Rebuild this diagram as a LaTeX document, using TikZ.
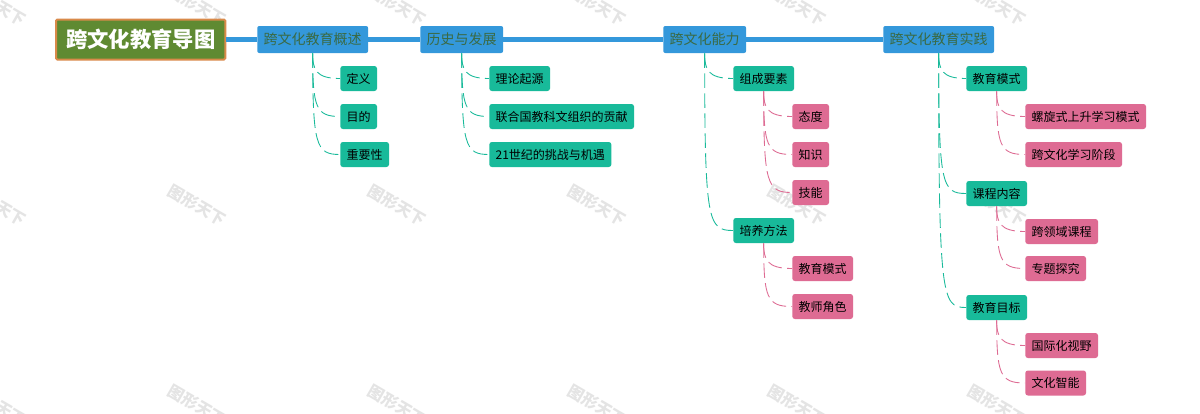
\documentclass[tikz,border=0pt]{standalone}
\usepackage{fontspec}
\usetikzlibrary{calc}
\setmainfont{Noto Sans CJK SC}
\definecolor{mainblue}{HTML}{3498DB}
\definecolor{tealc}{HTML}{18BA9A}
\definecolor{pinkc}{HTML}{DE6B93}
\definecolor{titlefill}{HTML}{5F8A32}
\definecolor{titleedge}{HTML}{D98A4A}
\definecolor{bluetext}{HTML}{3A6A44}
\definecolor{wm}{HTML}{E4E4E4}
\tikzset{
 x=0.75pt,y=-0.75pt,
 titlebox/.style={draw=titleedge,line width=1.5pt,fill=titlefill,text=white,font=\fontsize{16}{16}\selectfont\bfseries,inner xsep=7.5pt,inner ysep=0pt,minimum height=30pt,rounded corners=1pt,anchor=west},
 bluebox/.style={fill=mainblue,text=bluetext,font=\fontsize{10.5}{10.5}\selectfont,inner xsep=4.8pt,inner ysep=0pt,minimum height=20.25pt,rounded corners=1.5pt,anchor=west},
 tealbox/.style={fill=tealc,text=black,font=\fontsize{9}{9}\selectfont,inner xsep=4.8pt,inner ysep=0pt,minimum height=18.75pt,rounded corners=2pt,anchor=west},
 pinkbox/.style={fill=pinkc,text=black,font=\fontsize{9}{9}\selectfont,inner xsep=4.8pt,inner ysep=0pt,minimum height=18.75pt,rounded corners=2pt,anchor=west},
 mainline/.style={draw=mainblue,line width=3.75pt},
 tealline/.style={draw=tealc,line width=0.65pt,dash pattern=on 11pt off 4pt},
 pinkline/.style={draw=pinkc,line width=0.65pt,dash pattern=on 11pt off 4pt},
 wmark/.style={text=wm,font=\fontsize{12}{12}\selectfont\bfseries,rotate=-30}
}
\begin{document}
\begin{tikzpicture}
\useasboundingbox (0,0) rectangle (1200,414);
\fill[white] (0,0) rectangle (1200,414);
% watermarks
\foreach \wx in {-3,197,397,597,797,997}{
 \foreach \wy in {5,205,405}{
  \node[wmark] (wm\wx-\wy) at (\wx,\wy) {图形天下};
 }
}
% main row
\node[titlebox] (root) at (55,39.5) {跨文化教育导图};
\node[bluebox] (a) at (257,39.5) {跨文化教育概述};
\node[bluebox] (b) at (420,39.5) {历史与发展};
\node[bluebox] (c) at (663,39.5) {跨文化能力};
\node[bluebox] (d) at (883,39.5) {跨文化教育实践};
% level 2
\node[tealbox] (a1) at (340,78.5) {定义};
\node[tealbox] (a2) at (340,116.5) {目的};
\node[tealbox] (a3) at (340,154.5) {重要性};
\node[tealbox] (b1) at (489,78.5) {理论起源};
\node[tealbox] (b2) at (489,116.5) {联合国教科文组织的贡献};
\node[tealbox] (b3) at (489,154.5) {21世纪的挑战与机遇};
\node[tealbox] (c1) at (733,78.5) {组成要素};
\node[tealbox] (c2) at (733,230.5) {培养方法};
\node[tealbox] (d1) at (966,78.5) {教育模式};
\node[tealbox] (d2) at (966,193.5) {课程内容};
\node[tealbox] (d3) at (966,307.5) {教育目标};
% level 3
\node[pinkbox] (c11) at (792,116.5) {态度};
\node[pinkbox] (c12) at (792,154.5) {知识};
\node[pinkbox] (c13) at (792,192.5) {技能};
\node[pinkbox] (c21) at (792,268.5) {教育模式};
\node[pinkbox] (c22) at (792,306.5) {教师角色};
\node[pinkbox] (d11) at (1025,116.5) {螺旋式上升学习模式};
\node[pinkbox] (d12) at (1025,154.5) {跨文化学习阶段};
\node[pinkbox] (d21) at (1025,231.5) {跨领域课程};
\node[pinkbox] (d22) at (1025,268.5) {专题探究};
\node[pinkbox] (d31) at (1025,345.5) {国际化视野};
\node[pinkbox] (d32) at (1025,383) {文化智能};
% connectors
\draw[mainline] (root.east) -- (a.west);
\draw[mainline] (a.east) -- (b.west);
\draw[mainline] (b.east) -- (c.west);
\draw[mainline] (c.east) -- (d.west);
\foreach \p/\q in {a/a1,a/a2,a/a3,b/b1,b/b2,b/b3,c/c1,c/c2,d/d1,d/d2,d/d3}
 \draw[tealline] (\p.south) .. controls ($(\p.south |- \q.west)+(0,-9)$) and ($(\p.south |- \q.west)+(3,0)$) .. (\q.west);
\foreach \p/\q in {c1/c11,c1/c12,c1/c13,c2/c21,c2/c22,d1/d11,d1/d12,d2/d21,d2/d22,d3/d31,d3/d32}
 \draw[pinkline] (\p.south) .. controls ($(\p.south |- \q.west)+(0,-9)$) and ($(\p.south |- \q.west)+(3,0)$) .. (\q.west);
\end{tikzpicture}
\end{document}
